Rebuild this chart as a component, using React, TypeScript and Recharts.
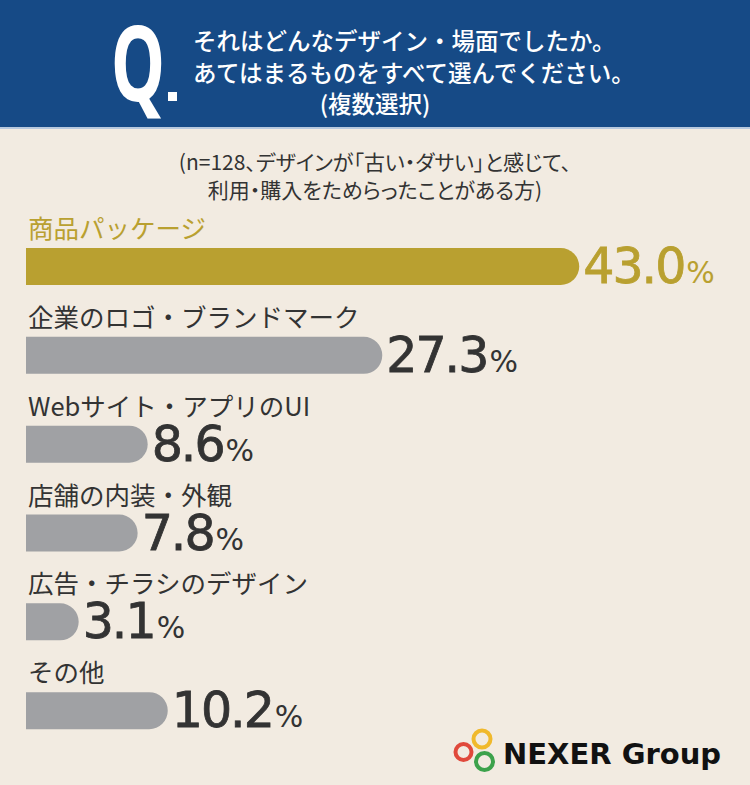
import { BarChart, Bar, XAxis, YAxis, Cell, LabelList } from "recharts";

const categories = [
  "商品パッケージ",
  "企業のロゴ・ブランドマーク",
  "Webサイト・アプリのUI",
  "店舗の内装・外観",
  "広告・チラシのデザイン",
  "その他",
];
const values = [43.0, 27.3, 8.6, 7.8, 3.1, 10.2];
const BAR_BASE = -1.1;

const GOLD = "#b9a030";
const GREY = "#a0a1a4";
const TEXT = "#333333";
const BG = "#f2ebe1";
const NAVY = "#164a86";

const data = categories.map((name, i) => ({ name, value: values[i], range: [BAR_BASE, values[i]] }));

const JP = '"Noto Sans CJK JP", "Noto Sans", sans-serif';
const NUM = '"DejaVu Sans", "Noto Sans", sans-serif';

const RowLabel = (props: any) => {
  const { x, y, width, height, index } = props;
  const first = index === 0;
  const color = first ? GOLD : TEXT;
  return (
    <g>
      <text x={x + 2} y={y - 10} fontSize={25.5} fontFamily={JP} fill={color}>
        {categories[index]}
      </text>
      <text x={x + width + 4} y={y + height - 2} fontFamily={NUM} fill={color} stroke={color} strokeWidth={0.8}>
        <tspan fontSize={49} letterSpacing={-2}>{values[index].toFixed(1)}</tspan>
        <tspan fontSize={30} strokeWidth={0} dx={2}>%</tspan>
      </text>
    </g>
  );
};

export default function App() {
  return (
    <div style={{ position: "absolute", left: 0, top: 0, width: 750, height: 785, background: BG, overflow: "hidden" }}>
      <svg width={750} height={130} style={{ position: "absolute", left: 0, top: 0 }}>
        <rect x={0} y={0} width={750} height={127} fill={NAVY} />
        <rect x={0} y={127} width={750} height={2} fill="#b8c9de" />
        <text
          x={111}
          y={101}
          fontSize={104}
          fontWeight={700}
          fontFamily='"Noto Sans", sans-serif'
          fill="#ffffff"
          textLength={54}
          lengthAdjust="spacingAndGlyphs"
        >
          Q
        </text>
        <rect x={168} y={92} width={9} height={9} fill="#ffffff" />
        <g fontFamily={JP} fontSize={23.5} fontWeight={500} fill="#ffffff">
          <text x={193} y={50}>それはどんなデザイン・場面でしたか。</text>
          <text x={193} y={82}>あてはまるものをすべて選んでください。</text>
          <text x={375} y={113} textAnchor="middle">(複数選択)</text>
        </g>
      </svg>
      <div
        style={{
          position: "absolute",
          left: 0,
          top: 147,
          width: 750,
          textAlign: "center",
          fontFamily: JP,
          fontSize: 21,
          lineHeight: "28px",
          color: TEXT,
          fontFeatureSettings: '"palt"',
        }}
      >
        (n=128、デザインが「古い・ダサい」と感じて、
        <br />
        利用・購入をためらったことがある方)
      </div>
      <div style={{ position: "absolute", left: 0, top: 0 }}>
        <BarChart
          width={750}
          height={785}
          layout="vertical"
          data={data}
          margin={{ top: 222, right: 24, bottom: 30, left: 26 }}
          barCategoryGap={0}
        >
          <XAxis type="number" domain={[BAR_BASE, 54.7]} hide />
          <YAxis type="category" dataKey="name" hide />
          <Bar dataKey="range" barSize={37} radius={[0, 18.5, 18.5, 0]} isAnimationActive={false}>
            {data.map((d, i) => (
              <Cell key={d.name} fill={i === 0 ? GOLD : GREY} />
            ))}
            <LabelList dataKey="value" content={RowLabel} />
          </Bar>
        </BarChart>
      </div>
      <svg width={750} height={785} style={{ position: "absolute", left: 0, top: 0, pointerEvents: "none" }}>
        <circle cx={482} cy={739} r={8.5} fill="none" stroke="#f0b92c" strokeWidth={4} />
        <circle cx={463.5} cy={752} r={8} fill="none" stroke="#e0493b" strokeWidth={4} />
        <circle cx={484.5} cy={761.5} r={8.5} fill="none" stroke="#3ca24b" strokeWidth={4} />
        <text x={503} y={764} fontFamily='"DejaVu Sans", sans-serif' fontWeight={700} fontSize={29} fill="#111111">
          NEXER Group
        </text>
      </svg>
    </div>
  );
}
